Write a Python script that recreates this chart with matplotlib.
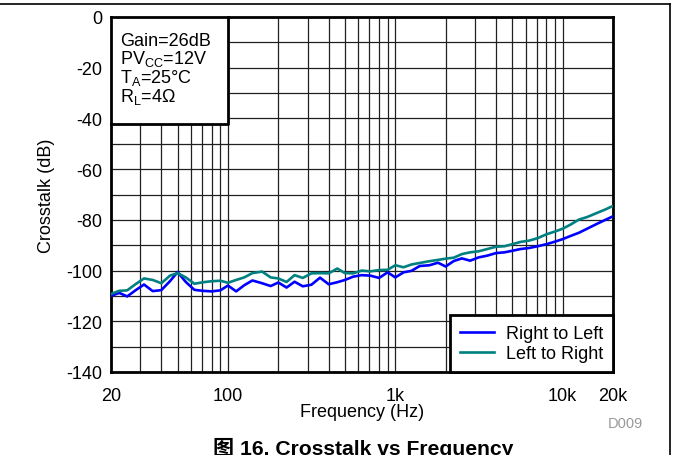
import numpy as np
import matplotlib.pyplot as plt
from matplotlib.lines import Line2D
from matplotlib.ticker import FixedLocator, NullFormatter

plt.rcParams['font.family'] = ['Liberation Sans', 'Noto Sans CJK SC']
plt.rcParams['mathtext.fontset'] = 'custom'
plt.rcParams['mathtext.rm'] = 'Liberation Sans'
plt.rcParams['mathtext.it'] = 'Liberation Sans'
plt.rcParams['axes.unicode_minus'] = False

# 1/6 octave frequency points (Hz)
freq = [20, 22.4, 25, 28, 31.5, 35.5, 40, 45, 50, 56, 63, 71, 80, 90,
        100, 112, 125, 140, 160, 180, 200, 224, 250, 280, 315, 355, 400, 450,
        500, 560, 630, 710, 800, 900, 1000, 1120, 1250, 1400, 1600, 1800,
        2000, 2240, 2500, 2800, 3150, 3550, 4000, 4500, 5000, 5600, 6300,
        7100, 8000, 9000, 10000, 11200, 12500, 14000, 16000, 18000, 20000]

right_to_left = [-110, -108.8, -110.2, -107.8, -105.5, -108.1, -107.7, -104.2,
                 -100.6, -104.5, -107.6, -108, -108.2, -107.8, -105.9, -108.2,
                 -105.8, -103.9, -105, -106.1, -104.7, -106.7, -104.4, -106.2,
                 -105.6, -102.8, -105.4, -104.6, -103.7, -102.4, -101.8, -102,
                 -102.9, -100.7, -102.7, -100.7, -100.1, -98.2, -97.9, -96.9,
                 -98.4, -96.2, -95.2, -96.1, -94.8, -94.1, -93.1, -92.8, -92.2,
                 -91.5, -91.1, -90.4, -89.6, -88.6, -87.6, -86.3, -85.1, -83.5,
                 -81.6, -80.0, -78.6]

left_to_right = [-109.2, -108, -107.8, -105.4, -103.1, -103.7, -105, -102,
                 -101, -102.7, -105.2, -104.6, -104.2, -104, -104.8, -103.7,
                 -102.7, -101, -100.4, -102.7, -103.1, -104.5, -101.8, -102.9,
                 -101.1, -101, -101.1, -99.2, -101, -101.1, -100, -100.3, -99.8,
                 -99.7, -97.9, -98.7, -97.6, -97, -96.3, -95.8, -95.3, -94.9,
                 -93.5, -92.8, -92.4, -91.5, -90.6, -90.4, -89.6, -88.7, -88.2,
                 -87.2, -85.7, -84.6, -83.5, -81.8, -79.9, -78.9, -77.3, -75.9,
                 -74.5]

xticks = [20, 100, 1000, 10000, 20000]
xticklabels = ['20', '100', '1k', '10k', '20k']
yticks = [0, -20, -40, -60, -80, -100, -120, -140]

fig = plt.figure(figsize=(6.73, 4.56), dpi=100)
ax = fig.add_axes([111/673, 1-373/456, 502/673, 355/456])

ax.semilogx(freq, right_to_left, color='#0000ff', lw=1.9, label='Right to Left', zorder=3)
ax.semilogx(freq, left_to_right, color='#008080', lw=1.9, label='Left to Right', zorder=3)

ax.set_xlim(20, 20000)
ax.set_ylim(-140, 0)
ax.set_xticks(xticks)
ax.set_xticklabels(xticklabels)
ax.xaxis.set_minor_locator(FixedLocator([30, 40, 50, 60, 70, 80, 90, 200, 300, 400, 500, 600,
                                         700, 800, 900, 2000, 3000, 4000, 5000, 6000,
                                         7000, 8000, 9000]))
ax.xaxis.set_minor_formatter(NullFormatter())
ax.set_yticks(yticks)
ax.set_yticks(np.arange(-130, 0, 20), minor=True)
ax.tick_params(which='both', length=0, labelsize=13)
ax.tick_params(axis='y', pad=6)
ax.tick_params(axis='x', pad=11)
ax.grid(which='both', color='#202020', lw=0.9)
ax.set_axisbelow(True)
for s in ax.spines.values():
    s.set_linewidth(2)

ax.set_xlabel('Frequency (Hz)', fontsize=13, labelpad=-1)
ax.set_ylabel('Crosstalk (dB)', fontsize=13, labelpad=8)

# condition box
ax.fill_between([20, 100], [-42.2, -42.2], [0, 0], facecolor='white', edgecolor='none', zorder=2)
ax.plot([20, 100, 100], [-42.2, -42.2, 0], color='black', lw=2, zorder=2.5, clip_on=False)
conds = ['Gain=26dB', 'PV$_\\mathrm{CC}$=12V', 'T$_\\mathrm{A}$=25°C', 'R$_\\mathrm{L}$=4Ω']
cond_y = [0.922, 0.870, 0.816, 0.764]
for t, yy in zip(conds, cond_y):
    ax.text(0.018, yy, t, transform=ax.transAxes, fontsize=13,
            va='baseline', ha='left', zorder=4)

leg = ax.legend(loc='lower right', fontsize=13, frameon=True, fancybox=False,
                edgecolor='black', framealpha=1, borderaxespad=0,
                handlelength=1.9, handletextpad=0.65, borderpad=0.55, labelspacing=0.15)
leg.get_frame().set_linewidth(2)

# outer frame
fig.add_artist(Line2D([0, 670/673], [1-5/456, 1-5/456], color='black', lw=1.2))
fig.add_artist(Line2D([670/673, 670/673], [0, 1-5/456], color='black', lw=1.2))

fig.text(608/673, 1-424/456, 'D009', color='#999999', fontsize=10.5, va='center')
fig.text(363/673, 1-455/456, '图 16. Crosstalk vs Frequency', fontsize=15.2,
         fontweight='bold', ha='center', va='baseline')

fig.savefig('out.png', dpi=100)
